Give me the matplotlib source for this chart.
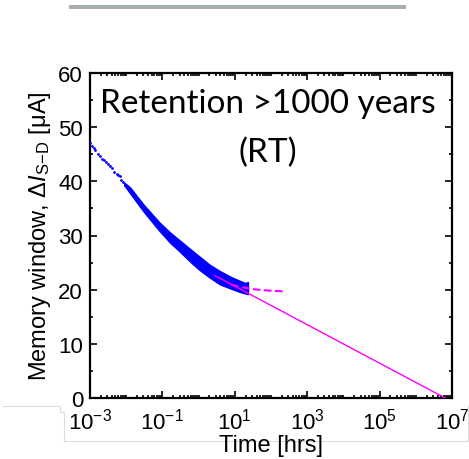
import numpy as np
import matplotlib
matplotlib.use("Agg")
import matplotlib.pyplot as plt
from matplotlib.lines import Line2D
from matplotlib.ticker import LogLocator, MultipleLocator, NullFormatter

plt.rcParams['font.family'] = ['Liberation Sans', 'DejaVu Sans']
plt.rcParams['mathtext.fontset'] = 'custom'
plt.rcParams['mathtext.rm'] = 'Liberation Sans'
plt.rcParams['mathtext.it'] = 'Liberation Sans:italic'
plt.rcParams['mathtext.bf'] = 'Liberation Sans:bold'

# early sparse measurement points (log10 hrs, uA)
early_logt = [-3.0, -2.95, -2.9, -2.85, -2.78, -2.72, -2.66, -2.6, -2.55, -2.5,
              -2.45, -2.4, -2.33, -2.26, -2.22, -2.18, -2.13, -2.08, -2.03]
early_mw = [47.0, 46.6, 46.1, 45.7, 45.1, 44.7, 44.2, 44.0, 43.6, 43.2,
            42.9, 42.4, 41.8, 41.4, 41.2, 40.9, 40.2, 39.9, 39.4]

# dense measurement band (log10 hrs, lower / upper edge, uA)
band_logt = [-2.05, -1.9, -1.5, -1.07, -0.8, -0.51, -0.2, 0.04, 0.3, 0.59, 0.9, 1.14, 1.3, 1.36]
band_low = [39.3, 37.9, 34.3, 30.8, 28.8, 27.0, 25.0, 23.6, 22.3, 21.0, 20.2, 19.6, 19.3, 19.2]
band_high = [39.7, 38.9, 35.5, 32.3, 30.6, 29.0, 27.3, 26.0, 24.6, 23.4, 22.3, 21.6, 21.2, 21.4]

# fit curves
dash_logt = [0.9, 1.2, 1.5, 1.8, 2.1, 2.36]
dash_mw = [20.9, 20.45, 20.1, 19.9, 19.75, 19.7]
line_logt = [0.45, 6.81]
line_mw = [22.6, 0.0]

fig = plt.figure(figsize=(4.69, 4.60), dpi=100)
ax = fig.add_axes([90 / 469, 1 - 399 / 460, 362 / 469, 325 / 460])

t_early = 10.0 ** np.array(early_logt)
t_band = 10.0 ** np.array(band_logt)
ax.scatter(t_early, early_mw, s=4, color='#0000ff', lw=0, zorder=3)
ax.fill_between(t_band, band_low, band_high, color='#0000ff', lw=1.2,
                edgecolor='#0000ff', zorder=3)
ax.plot(10.0 ** np.array(dash_logt), dash_mw, '--', color='#ff00ff', lw=1.5, zorder=4)
ax.plot(10.0 ** np.array(line_logt), line_mw, '-', color='#ff00ff', lw=1.0, zorder=4)

ax.set_xscale('log')
ax.set_xlim(1e-3, 1e7)
ax.set_ylim(0, 60)
ax.xaxis.set_minor_locator(LogLocator(base=10, subs=np.arange(1, 10), numticks=30))
ax.xaxis.set_minor_formatter(NullFormatter())
ax.set_xticks([1e-3, 1e-1, 1e1, 1e3, 1e5, 1e7])
ax.yaxis.set_major_locator(MultipleLocator(10))
ax.yaxis.set_minor_locator(MultipleLocator(5))

for s in ax.spines.values():
    s.set_linewidth(1.6)
ax.tick_params(which='both', direction='in', top=True, right=True, width=1.2,
               labelsize=16)
ax.tick_params(axis='x', pad=7)
ax.tick_params(axis='y', pad=5)
ax.tick_params(which='major', length=5)
ax.tick_params(which='minor', length=2.5)

ax.set_xlabel('Time [hrs]', fontsize=17, labelpad=0)
ax.set_ylabel(r'Memory window, $\Delta\mathit{I}_{\mathrm{S\!-\!D}}$ [μA]', fontsize=17, labelpad=4)

ax.text(0.49, 0.908, 'Retention >1000 years', transform=ax.transAxes,
        ha='center', va='center', fontsize=24, family='Lato')
ax.text(0.49, 0.757, '(RT)', transform=ax.transAxes,
        ha='center', va='center', fontsize=24, family='Lato')

# decorative lines from the source slide
fig.add_artist(Line2D([71 / 469, 404 / 469], [1 - 7.5 / 460, 1 - 7.5 / 460],
                      color='#a6abae', lw=2.8))
fig.add_artist(Line2D([3 / 469, 60 / 469, 60 / 469, 64 / 469, 64 / 469, 468 / 469, 468 / 469],
                      [1 - 407 / 460, 1 - 407 / 460, 1 - 413 / 460, 1 - 413 / 460,
                       1 - 442 / 460, 1 - 442 / 460, 1 - 407 / 460],
                      color='#dddddd', lw=0.8, zorder=0))

fig.savefig('out.png', dpi=100)
